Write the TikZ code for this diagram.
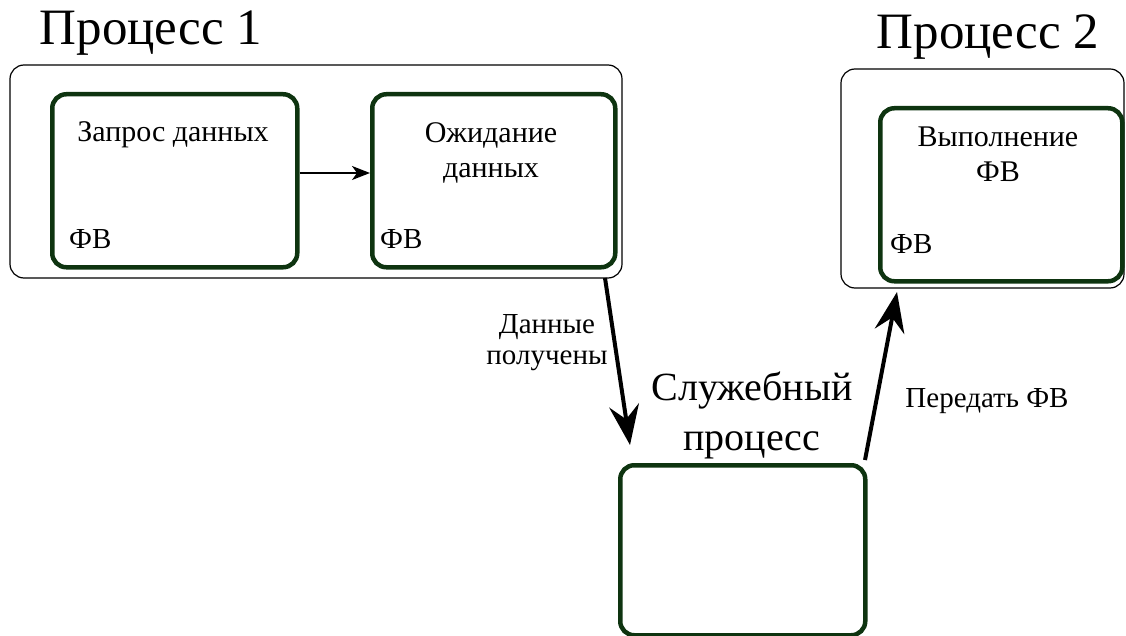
\documentclass[tikz,border=0pt]{standalone}
\usepackage{fontspec}
\setmainfont{Liberation Serif}
\usetikzlibrary{arrows.meta}
\definecolor{fvgreen}{RGB}{14,52,16}
\tikzset{
  x=1pt, y=-1pt,
  procbox/.style={draw=black, line width=1.2pt, rounded corners=14pt},
  fvbox/.style={draw=fvgreen, line width=4.5pt, rounded corners=14pt},
  boxtext/.style={font=\fontsize{30}{35}\selectfont, align=center, inner sep=0pt},
  fvtext/.style={font=\fontsize{29}{35}\selectfont, inner sep=0pt},
  titletext/.style={font=\fontsize{51}{56}\selectfont, inner sep=0pt},
  bigtext/.style={font=\fontsize{40}{50}\selectfont, align=center, inner sep=0pt},
  labeltext/.style={font=\fontsize{29}{31}\selectfont, align=center, inner sep=0pt},
  thinarrow/.style={draw=black, line width=1.6pt, -{Stealth[length=18pt,width=14pt,inset=5pt]}},
  thickarrow/.style={draw=black, line width=4pt, -{Stealth[length=40pt,width=30pt,inset=14pt]}},
}
\begin{document}
\begin{tikzpicture}
\useasboundingbox (0,0) rectangle (1126,636);

% Process 1
\draw[procbox] (10,65) rectangle (622,278);
\coordinate (p1se) at (605,278);
\node[titletext] (t1) at (151,33) {Процесс 1};
\node[fvbox, minimum width=245pt, minimum height=173pt, anchor=north west] (req) at (50,92) {};
\node[fvbox, minimum width=243pt, minimum height=173pt, anchor=north west] (wait) at (370,92) {};
\node[boxtext] (reqt) at (173,135) {Запрос данных};
\node[boxtext] (waitt) at (491,153) {Ожидание\\данных};
\node[fvtext, anchor=west] (fv1) at (69,239) {ФВ};
\node[fvtext, anchor=west] (fv2) at (380,239) {ФВ};
\draw[thinarrow] (req.east |- 0,173) -- (wait.west |- 0,173);

% Process 2
\draw[procbox] (841,69) rectangle (1124,288);
\node[titletext] (t2) at (988,37) {Процесс 2};
\node[fvbox, minimum width=242pt, minimum height=173pt, anchor=north west] (exec) at (878,106) {};
\node[boxtext] (exect) at (998,154) {Выполнение\\ФВ};
\node[fvtext, anchor=west] (fv3) at (890,244) {ФВ};
\coordinate (p2sw) at (897,292);

% Service process
\node[fvbox, minimum width=245pt, minimum height=170pt, anchor=north west] (svc) at (618,463) {};
\node[bigtext] (svct) at (752,415) {Служебный\\процесс};
\coordinate (svcin) at (630,445);
\coordinate (svcout) at (865,460);

% Transfers between processes
\draw[thickarrow] (p1se) -- (svcin);
\node[labeltext] (lbl1) at (547,343) {Данные\\получены};
\draw[thickarrow] (svcout) -- (p2sw);
\node[labeltext] (lbl2) at (987,401) {Передать ФВ};
\end{tikzpicture}
\end{document}
